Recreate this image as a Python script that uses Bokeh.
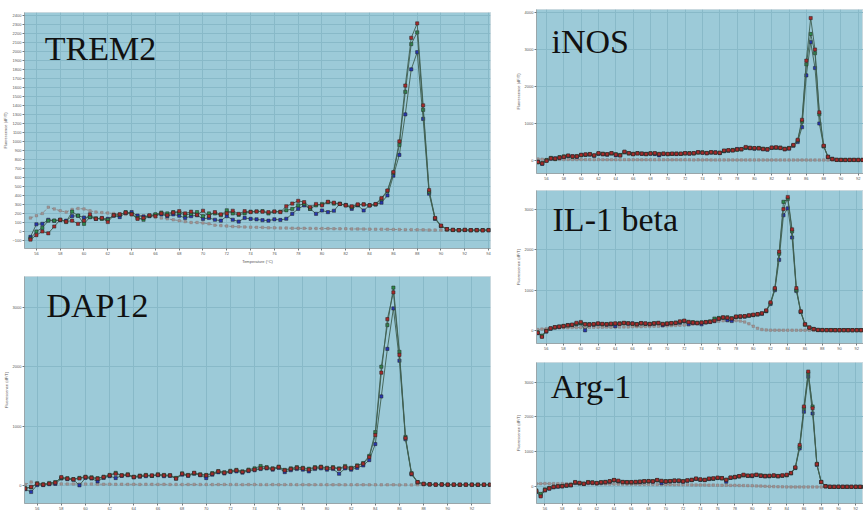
from bokeh.plotting import figure
from bokeh.models import Label, FixedTicker, Range1d
from bokeh.layouts import row, column
from bokeh.embed import file_html
from bokeh.resources import INLINE

# ---------------- data (melt-curve derivative readings) ----------------
trem2_T = [55.5 + 0.5 * i for i in range(78)]
trem2_R = [-90, -40, 0, -20, 55, 130, 110, 120, 85, 120,
           190, 140, 150, 105, 180, 190, 210, 190, 140, 150,
           180, 170, 200, 180, 210, 225, 200, 220, 185, 230,
           170, 215, 190, 200, 230, 195, 225, 215, 222, 220,
           215, 222, 215, 280, 310, 340, 326, 270, 305, 290,
           330, 320, 305, 290, 280, 300, 300, 290, 305, 370,
           455, 660, 1000, 1620, 2150, 2310, 1400, 460, 150, 65,
           25, 18, 15, 18, 14, 16, 13, 15]
trem2_G = [-80, 0, 40, 120, 120, 130, 105, 220, 175, 85,
           160, 145, 140, 130, 180, 185, 215, 195, 150, 130,
           175, 190, 210, 200, 215, 205, 185, 195, 215, 170,
           200, 200, 180, 235, 200, 185, 200, 220, 222, 225,
           200, 220, 220, 235, 250, 290, 307, 252, 290, 305,
           326, 310, 307, 289, 270, 295, 300, 290, 300, 360,
           450, 650, 960, 1550, 2080, 2210, 1350, 440, 145, 62,
           24, 16, 14, 17, 15, 13, 15, 14]
trem2_B = [-60, 80, 85, 130, 120, 125, 120, 170, 175, 155,
           160, 140, 145, 140, 175, 160, 205, 215, 175, 165,
           170, 185, 190, 170, 190, 175, 150, 170, 180, 140,
           150, 130, 120, 170, 130, 110, 150, 140, 135, 125,
           120, 135, 128, 141, 196, 252, 289, 252, 196, 233,
           215, 230, 307, 295, 252, 290, 233, 289, 300, 320,
           400, 620, 850, 1300, 1800, 1990, 1250, 420, 140, 60,
           25, 17, 15, 16, 14, 15, 14, 16]
trem2_N = [150, 175, 200, 270, 250, 230, 215, 245, 255, 250,
           230, 215, 210, 205, 200, 195, 190, 185, 180, 175,
           170, 160, 150, 140, 130, 120, 110, 100, 100, 95,
           85, 70, 65, 60, 55, 52, 50, 48, 46, 45,
           40, 40, 38, 38, 36, 35, 35, 34, 33, 32,
           32, 30, 30, 30, 28, 28, 27, 26, 25, 25,
           24, 22, 22, 20, 20, 18, 18, 16, 15, 15,
           14, 15, 13, 14, 15, 14, 13, 14]

dap12_T = [55.0 + 0.5 * i for i in range(78)]
dap12_R = [-50, -20, 30, 16, 33, 50, 144, 117, 106, 120,
           144, 130, 117, 144, 172, 200, 172, 183, 144, 160,
           172, 172, 183, 172, 172, 117, 200, 172, 217, 183,
           172, 200, 239, 217, 239, 256, 230, 256, 270, 290,
           300, 283, 311, 256, 280, 300, 290, 270, 300, 311,
           290, 300, 280, 310, 290, 330, 370, 480, 850, 1900,
           2800, 3250, 2200, 800, 200, 60, 30, 22, 18, 20,
           17, 19, 16, 18, 17, 15, 17, 16]
dap12_G = [-40, -30, 40, 20, 45, 60, 130, 125, 110, 130,
           150, 140, 125, 150, 180, 215, 175, 190, 150, 170,
           180, 165, 190, 180, 175, 130, 205, 180, 210, 190,
           180, 210, 245, 225, 250, 265, 240, 270, 290, 330,
           310, 290, 320, 265, 290, 310, 300, 285, 310, 320,
           300, 310, 290, 330, 300, 340, 380, 500, 900, 2000,
           2700, 3330, 2250, 820, 210, 60, 30, 22, 19, 20,
           18, 17, 16, 18, 17, 16, 16, 17]
dap12_B = [-60, -106, 10, 10, 25, 30, 120, 110, 100, 6,
           130, 120, 72, 130, 160, 128, 165, 175, 140, 150,
           160, 165, 175, 160, 165, 120, 185, 165, 200, 175,
           128, 185, 225, 205, 230, 240, 220, 245, 260, 280,
           290, 270, 300, 228, 260, 280, 270, 240, 280, 290,
           270, 280, 200, 290, 270, 300, 340, 430, 700, 1500,
           2300, 2980, 2100, 780, 190, 55, 28, 20, 18, 19,
           16, 17, 15, 16, 16, 15, 16, 15]
dap12_N = [20, 60, 40, 35, 32, 30, 29, 27, 28, 26,
           26, 27, 25, 24, 25, 23, 24, 22, 23, 21,
           23, 22, 21, 22, 20, 21, 19, 20, 21, 19,
           20, 18, 19, 20, 18, 19, 17, 18, 19, 17,
           17, 18, 16, 17, 18, 16, 17, 15, 16, 17,
           16, 15, 16, 14, 15, 16, 15, 14, 15, 14,
           14, 15, 13, 14, 13, 14, 13, 14, 13, 12,
           13, 12, 13, 12, 12, 13, 12, 12]

inos_T = [55.0 + 0.5 * i for i in range(77)]
inos_R = [-40, -80, -10, 60, 50, 80, 100, 135, 110, 110,
          150, 165, 170, 140, 200, 175, 170, 200, 160, 135,
          240, 200, 170, 195, 185, 175, 190, 200, 170, 185,
          180, 185, 180, 185, 200, 190, 200, 225, 210, 200,
          225, 215, 205, 270, 280, 275, 300, 310, 365, 340,
          335, 330, 310, 300, 350, 355, 340, 310, 330, 420,
          560, 1100, 2700, 3850, 3000, 1300, 400, 100, 40, 18,
          15, 14, 16, 15, 15, 16, 14]
inos_G = [-50, -70, 10, 70, 40, 90, 110, 130, 100, 120,
          140, 160, 175, 135, 190, 185, 165, 195, 170, 150,
          230, 190, 180, 200, 190, 170, 195, 190, 180, 190,
          175, 180, 190, 180, 190, 200, 195, 215, 220, 205,
          220, 210, 215, 260, 270, 285, 290, 305, 350, 345,
          330, 340, 320, 310, 345, 350, 350, 320, 340, 410,
          540, 1050, 2600, 3420, 2900, 1250, 390, 95, 40, 16,
          15, 15, 14, 16, 15, 14, 15]
inos_B = [-30, -90, 0, 50, 60, 70, 95, 120, 115, 100,
          155, 150, 160, 130, 180, 165, 160, 190, 140, 140,
          220, 195, 175, 190, 180, 180, 185, 175, 140, 175,
          170, 180, 175, 180, 195, 185, 190, 220, 215, 195,
          215, 220, 200, 250, 265, 270, 310, 300, 340, 330,
          320, 325, 305, 295, 340, 345, 335, 300, 320, 400,
          500, 900, 2300, 3200, 2500, 1000, 380, 100, 45, 17,
          16, 14, 15, 15, 14, 15, 16]
inos_N = [40, 35, 30, 31, 28, 29, 26, 27, 25, 26,
          25, 24, 25, 23, 24, 23, 22, 23, 22, 21,
          22, 21, 20, 21, 20, 21, 20, 19, 20, 19,
          19, 18, 19, 18, 19, 18, 17, 18, 17, 18,
          17, 16, 17, 16, 17, 16, 15, 16, 15, 16,
          15, 16, 15, 14, 15, 14, 15, 14, 13, 14,
          13, 14, 13, 12, 13, 12, 13, 12, 12, 11,
          12, 11, 11, 12, 11, 12, 11]

il1b_T = [55.0 + 0.5 * i for i in range(77)]
il1b_R = [-50, -150, -10, 60, 90, 100, 115, 135, 150, 195,
          215, 160, 150, 165, 180, 170, 160, 175, 180, 170,
          195, 180, 175, 160, 190, 180, 165, 185, 195, 165,
          175, 190, 195, 230, 250, 210, 200, 190, 200, 210,
          220, 250, 300, 330, 320, 300, 350, 355, 360, 380,
          395, 410, 430, 500, 700, 1050, 1950, 3000, 3300, 2500,
          1050, 480, 160, 80, 40, 20, 18, 16, 17, 15,
          14, 16, 15, 14, 15, 14, 16]
il1b_G = [-40, -120, 0, 55, 85, 105, 120, 130, 145, 170,
          190, 165, 160, 160, 175, 165, 165, 170, 175, 180,
          190, 185, 170, 165, 185, 175, 170, 180, 190, 170,
          180, 185, 200, 220, 240, 220, 210, 200, 205, 215,
          230, 300, 315, 325, 330, 310, 345, 350, 355, 375,
          390, 405, 425, 490, 680, 1030, 1900, 3180, 3250, 2450,
          1000, 470, 150, 75, 40, 18, 17, 16, 15, 15,
          14, 15, 14, 14, 14, 15, 14]
il1b_B = [-60, -140, -20, 50, 80, 95, 110, 140, 140, 160,
          180, 10, 155, 150, 170, 160, 150, 160, 115, 175,
          185, 175, 180, 155, 180, 170, 160, 175, 185, 140,
          170, 180, 190, 200, 230, 160, 195, 185, 160, 205,
          215, 240, 290, 320, 260, 240, 340, 345, 350, 370,
          385, 400, 420, 480, 660, 1000, 1750, 2850, 3020, 2300,
          980, 460, 155, 80, 45, 18, 16, 16, 15, 14,
          15, 14, 15, 14, 15, 14, 15]
il1b_N = [30, 40, 50, 60, 65, 70, 75, 73, 80, 78,
          80, 85, 83, 86, 88, 86, 90, 89, 91, 92,
          95, 94, 98, 100, 99, 105, 104, 110, 109, 115,
          120, 125, 130, 135, 140, 150, 160, 170, 185, 200,
          215, 225, 235, 245, 250, 255, 250, 240, 215, 170,
          110, 60, 30, 20, 15, 15, 14, 14, 14, 14,
          13, 13, 13, 12, 12, 12, 12, 12, 12, 12,
          11, 11, 11, 11, 11, 11, 11]

arg1_T = [55.0 + 0.5 * i for i in range(77)]
arg1_R = [-120, -270, -90, -40, 0, 15, 20, 45, 50, 140,
          120, 90, 130, 125, 110, 135, 140, 165, 200, 180,
          140, 135, 140, 145, 150, 165, 170, 160, 200, 175,
          160, 170, 180, 185, 160, 190, 200, 240, 215, 200,
          240, 245, 265, 250, 200, 270, 280, 310, 350, 320,
          330, 345, 320, 310, 320, 330, 310, 330, 350, 400,
          560, 1200, 2300, 3300, 2250, 650, 140, 20, 5, 3,
          6, 4, 5, 3, 5, 4, 5]
arg1_G = [-100, -200, -70, -30, 10, 20, 30, 40, 60, 130,
          110, 95, 140, 130, 115, 130, 145, 160, 195, 170,
          145, 140, 135, 140, 155, 160, 165, 165, 195, 170,
          165, 165, 185, 180, 165, 185, 205, 235, 210, 205,
          235, 240, 260, 255, 210, 265, 290, 305, 340, 325,
          320, 350, 330, 320, 315, 325, 315, 325, 340, 395,
          550, 1150, 2250, 3250, 2300, 660, 140, 20, 5, 4,
          5, 4, 5, 4, 4, 5, 4]
arg1_B = [-140, -250, -100, -50, -10, 10, 15, 35, 45, 120,
          100, 85, 125, 120, 100, 125, 130, 150, 190, 160,
          135, 130, 130, 135, 140, 155, 160, 155, 190, 110,
          150, 160, 175, 170, 155, 180, 195, 230, 205, 195,
          225, 235, 255, 245, 150, 260, 275, 300, 330, 315,
          310, 340, 315, 300, 305, 320, 300, 320, 335, 390,
          540, 1100, 2150, 3150, 2100, 630, 145, 25, 6, 4,
          5, 5, 4, 4, 5, 4, 4]
arg1_N = [90, 95, 97, 94, 96, 93, 95, 91, 92, 89,
          90, 87, 89, 85, 86, 84, 83, 81, 82, 79,
          78, 77, 75, 76, 72, 73, 70, 71, 68, 67,
          65, 66, 62, 63, 60, 61, 58, 57, 55, 56,
          52, 53, 50, 49, 48, 45, 46, 42, 40, 38,
          35, 30, 25, 20, 15, 10, 5, 3, 2, 2,
          0, 1, 0, 0, 1, 0, 0, 1, 0, 0,
          0, 1, 0, 0, 0, 1, 0]

left_xticks = [56, 58, 60, 62, 64, 66, 68, 70, 72, 74, 76, 78, 80, 82, 84, 86, 88, 90, 92, 94]
right_xticks = [56, 58, 60, 62, 64, 66, 68, 70, 72, 74, 76, 78, 80, 82, 84, 86, 88, 90, 92]
trem2_yticks = [-100, 0, 100, 200, 300, 400, 500, 600, 700, 800, 900, 1000, 1100, 1200,
                1300, 1400, 1500, 1600, 1700, 1800, 1900, 2000, 2100, 2200, 2300, 2400]
big_yticks = [0, 1000, 2000, 3000, 4000]

# ---------------- styling ----------------
BG = "#9ccad8"
GRID = "#88b9c8"
LINE = "#3f5e50"
RED = "#a82a2a"
GREEN = "#2e8c4c"
BLUE = "#2636b0"
NTC_LINE = "#8a8a8a"
NTC_DOT = "#a09494"
TITLE_FONT = "Liberation Serif"


def panel(name, T, R, G, B, N, xr, yr, xticks, yticks, w, h, mb, title_xy,
          xlabel=None):
    p = figure(width=w, height=h, output_backend="svg", toolbar_location=None,
               x_range=Range1d(*xr), y_range=Range1d(*yr),
               min_border_left=mb[0], min_border_right=mb[1],
               min_border_top=mb[2], min_border_bottom=mb[3])
    p.background_fill_color = BG
    p.border_fill_color = "white"
    p.outline_line_color = "#c9d9df"
    p.xgrid.grid_line_color = GRID
    p.ygrid.grid_line_color = GRID
    p.xaxis.ticker = FixedTicker(ticks=xticks)
    p.yaxis.ticker = FixedTicker(ticks=yticks)
    for ax in (p.xaxis, p.yaxis):
        ax.major_label_text_font_size = "4px"
        ax.major_label_text_color = "#555555"
        ax.major_label_standoff = 1
        ax.axis_line_color = "#9aa6aa"
        ax.major_tick_line_color = "#6f7a7e"
        ax.major_tick_out = 2
        ax.major_tick_in = 0
        ax.minor_tick_line_color = None
        ax.axis_label_text_font_size = "4px"
        ax.axis_label_text_font_style = "normal"
        ax.axis_label_text_color = "#555555"
        ax.axis_label_standoff = 1
    p.yaxis.axis_label = "Fluorescence (dF/T)"
    if xlabel:
        p.xaxis.axis_label = xlabel

    # negative control: dashed gray
    p.line(T, N, line_color=NTC_LINE, line_width=1, line_dash="3 2")
    p.scatter(T, N, marker="square", size=2.5, fill_color=NTC_DOT,
              line_color="#7d7373", line_width=0.4)
    for ys, col in ((B, BLUE), (G, GREEN), (R, RED)):
        p.line(T, ys, line_color=LINE, line_width=1, line_alpha=0.9)
        p.scatter(T, ys, marker="square", size=3.2, fill_color=col,
                  line_color="#222222", line_width=0.5)

    p.add_layout(Label(x=title_xy[0], y=title_xy[1], text=name,
                       text_font=TITLE_FONT, text_font_size="34px",
                       text_color="#111111", text_baseline="alphabetic"))
    return p


p_trem2 = panel("TREM2", trem2_T, trem2_R, trem2_G, trem2_B, trem2_N,
                (55.0, 94.16), (-189, 2431), left_xticks, trem2_yticks,
                492, 268, (0, 2, 12, 20), (56.7, 2030),
                xlabel="Temperature (°C)")
p_dap12 = panel("DAP12", dap12_T, dap12_R, dap12_G, dap12_B, dap12_N,
                (54.95, 93.54), (-300, 3517), left_xticks, big_yticks,
                492, 244, (0, 2, 8, 7), (56.77, 3030))
p_inos = panel("iNOS", inos_T, inos_R, inos_G, inos_B, inos_N,
               (54.84, 92.6), (-351, 4081), right_xticks, big_yticks,
               351, 182, (0, 0, 9, 9), (56.58, 3215))
p_il1b = panel("IL-1 beta", il1b_T, il1b_R, il1b_G, il1b_B, il1b_N,
               (54.87, 92.78), (-315, 3460), right_xticks, big_yticks,
               351, 170, (0, 0, 8, 6), (56.73, 2735))
p_arg1 = panel("Arg-1", arg1_T, arg1_R, arg1_G, arg1_B, arg1_N,
               (55.02, 92.9), (-473, 3558), right_xticks, big_yticks,
               351, 160, (0, 0, 10, 5), (56.67, 2860))

layout = row(column(p_trem2, p_dap12, spacing=0),
             column(p_inos, p_il1b, p_arg1, spacing=0),
             spacing=20)

open("out.html", "w").write(file_html(layout, INLINE))
